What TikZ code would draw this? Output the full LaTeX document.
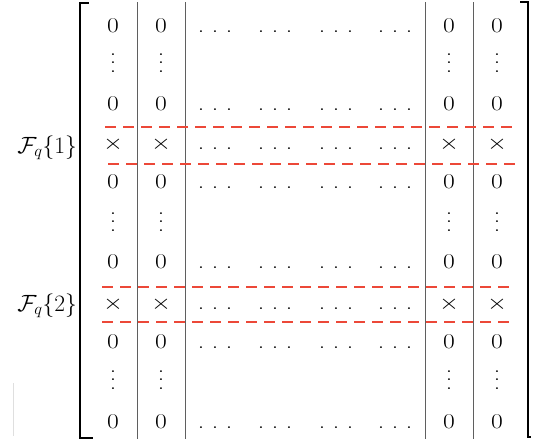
\RequirePackage{fix-cm}
\documentclass[tikz,border=0pt]{standalone}
\definecolor{sepred}{RGB}{236,72,56}
\definecolor{rulegray}{RGB}{95,95,95}
\begin{document}
\begin{tikzpicture}[x=1pt,y=-1pt,
  entry/.style={inner sep=0pt,anchor=base,font=\fontsize{21}{25}\selectfont},
  label/.style={inner sep=0pt,anchor=base east,font=\fontsize{23.5}{28}\selectfont},
  colrule/.style={draw=rulegray,line width=0.9pt},
  bracket/.style={draw=black,line width=1.8pt,line cap=rect},
  sepline/.style={draw=sepred,line width=2.7pt,dash pattern=on 11pt off 7pt}]
\useasboundingbox (0,0) rectangle (540,445);
% wide-set glyphs, horizontal dot runs and a compact vertical dot stack
\newcommand{\wide}[1]{\scalebox{1.22}[1]{#1}}
\newcommand{\hdots}{\wide{.}\hspace{7.6pt}\wide{.}\hspace{7.6pt}\wide{.}}
\newcommand{\vdotstack}{\vbox{\baselineskip=8.3pt\lineskiplimit=-10pt
  \hbox{\wide{.}}\hbox{\wide{.}}\hbox{\wide{.}}}}

% brackets
\draw[bracket] (88,3) -- (80,3) -- (80,438) -- (92,438);
\draw[bracket] (521,2) -- (528,2) -- (528,437) -- (530,437);
% faint edge mark at the lower left
\draw[gray!25,line width=0.6pt] (13,383) -- (13,436);

% column rules
\foreach \x/\n in {137/a,185/b,425/c,473/d}
  \draw[colrule] (\x,2) coordinate (\n top) -- (\x,439) coordinate (\n bot);

% entries: baselines of each row and its kind
\foreach \yb/\kind [count=\r] in {32/z,72/v,110/z,149/x,188/z,231/v,268/z,309/x,348/z,389/v,428/z}{
  \foreach \x [count=\c] in {113,161,449,497}{
    \if\kind z\node[entry] (e\r-\c) at (\x,\yb) {\wide{0}};\fi
    \if\kind v\node[entry] (e\r-\c) at (\x,\yb) {\vdotstack};\fi
    \if\kind x\node[entry] (e\r-\c) at (\x,\yb) {\wide{$\times$}};\fi
  }
  \if\kind v\else
    \foreach \x [count=\c] in {215,275,336,395}
      \node[entry] (d\r-\c) at (\x,\yb) {\hdots};
  \fi
}

% row labels
\node[label] (f1) at (77,153) {$\mathcal{F}_q\{1\}$};
\node[label] (f2) at (77,311) {$\mathcal{F}_q\{2\}$};

% dashed separators around the marked rows
\draw[sepline] (105,127) -- (517,127);
\draw[sepline] (108,164) -- (520,164);
\draw[sepline] (102,287) -- (513,287);
\draw[sepline] (102,322) -- (513,322);
\end{tikzpicture}
\end{document}
